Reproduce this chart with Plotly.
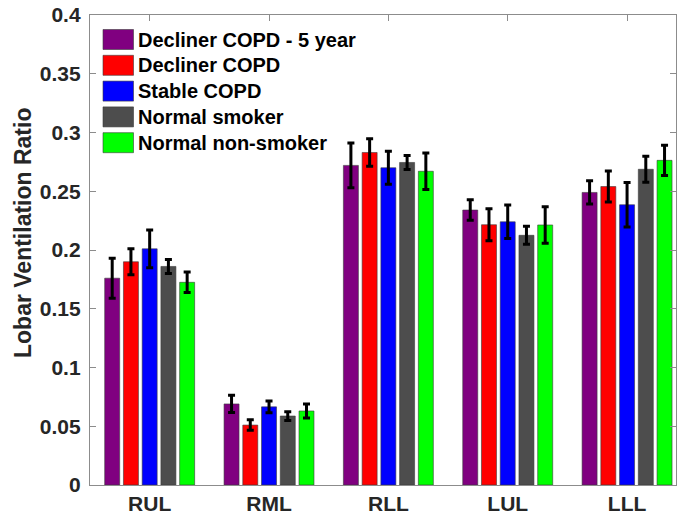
import plotly.graph_objects as go

# Lobe categories
lobes = ["RUL", "RML", "RLL", "LUL", "LLL"]

# Group names
groups = ["Decliner COPD - 5 year", "Decliner COPD", "Stable COPD",
          "Normal smoker", "Normal non-smoker"]

# Mean lobar ventilation ratio per group (RUL, RML, RLL, LUL, LLL)
decliner_5yr = [0.176, 0.069, 0.272, 0.234, 0.249]
decliner = [0.190, 0.051, 0.283, 0.2215, 0.254]
stable = [0.201, 0.0665, 0.270, 0.224, 0.2385]
normal_smoker = [0.186, 0.0587, 0.2745, 0.2125, 0.2687]
normal_nonsmoker = [0.1725, 0.063, 0.267, 0.2213, 0.2763]

# Error (half-length of error bars)
decliner_5yr_err = [0.017, 0.0074, 0.019, 0.0087, 0.0099]
decliner_err = [0.011, 0.0045, 0.0117, 0.0136, 0.0132]
stable_err = [0.016, 0.005, 0.014, 0.0143, 0.019]
normal_smoker_err = [0.006, 0.0037, 0.006, 0.0077, 0.011]
normal_nonsmoker_err = [0.0087, 0.006, 0.0156, 0.0155, 0.0128]

yticks = [0, 0.05, 0.1, 0.15, 0.2, 0.25, 0.3, 0.35, 0.4]
ytick_text = ["0", "0.05", "0.1", "0.15", "0.2", "0.25", "0.3", "0.35", "0.4"]

values = [decliner_5yr, decliner, stable, normal_smoker, normal_nonsmoker]
errors = [decliner_5yr_err, decliner_err, stable_err, normal_smoker_err,
          normal_nonsmoker_err]
colors = ["#800080", "#FF0000", "#0000FF", "#4D4D4D", "#00FF00"]

FONT = "Liberation Sans, Arial, sans-serif"
W, H = 677, 521
L, R, T, B = 90, 1, 15, 36

fig = go.Figure()
for name, vals, errs, col in zip(groups, values, errors, colors):
    fig.add_trace(go.Bar(
        x=lobes, y=vals, name=name,
        marker=dict(color=col, line=dict(color="#3a3a3a", width=0.6)),
        error_y=dict(type="data", array=errs, visible=True,
                     color="black", thickness=3, width=3.5),
        showlegend=False,
    ))

# Hand-built legend (large swatches, no frame)
plot_w = W - L - R
plot_h = H - T - B


def px_x(px):
    return (px - L) / plot_w


def px_y(py):
    return (H - B - py) / plot_h


row_top = 29.5
row_step = 25.8
for i, (name, col) in enumerate(zip(groups, colors)):
    y0 = row_top + i * row_step
    fig.add_shape(type="rect", xref="paper", yref="paper",
                  x0=px_x(103), x1=px_x(133.5), y0=px_y(y0 + 20), y1=px_y(y0),
                  fillcolor=col, line=dict(color="#3a3a3a", width=0.6))
    fig.add_annotation(xref="paper", yref="paper", x=px_x(135.5), y=px_y(y0 + 10),
                       text=f"<b>{name}</b>", showarrow=False,
                       xanchor="left", yanchor="middle",
                       font=dict(family=FONT, size=20, color="black"))

# Y-axis title
fig.add_annotation(xref="paper", yref="paper", x=0, y=px_y(233), xshift=-67,
                   text="<b>Lobar Ventilation Ratio</b>", textangle=-90,
                   showarrow=False, xanchor="center", yanchor="middle",
                   font=dict(family=FONT, size=23, color="#262626"))

fig.update_layout(
    width=W, height=H,
    margin=dict(l=L, r=R, t=T, b=B, pad=0),
    paper_bgcolor="white", plot_bgcolor="white",
    barmode="group", bargap=0.215, bargroupgap=0.2,
    font=dict(family=FONT, color="#262626"),
)
fig.update_xaxes(
    range=[-0.5, 4.41], showgrid=False, zeroline=False,
    showline=True, linecolor="#8c8c8c", linewidth=1.3, mirror="ticks",
    ticks="inside", ticklen=6, tickcolor="#8c8c8c", tickwidth=1,
    layer="below traces",
    tickfont=dict(family=FONT, size=21, color="#262626"),
    tickprefix="<b>", ticksuffix="</b>",
)
fig.update_yaxes(
    range=[0, 0.4], tickvals=yticks,
    ticktext=[f"<b>{t}</b>" for t in ytick_text],
    showgrid=False, zeroline=False,
    showline=True, linecolor="#8c8c8c", linewidth=1.3, mirror="ticks",
    ticks="inside", ticklen=6, tickcolor="#8c8c8c", tickwidth=1,
    tickfont=dict(family=FONT, size=21, color="#262626"),
    ticklabelstandoff=4,
)

fig.write_html("out.html")
